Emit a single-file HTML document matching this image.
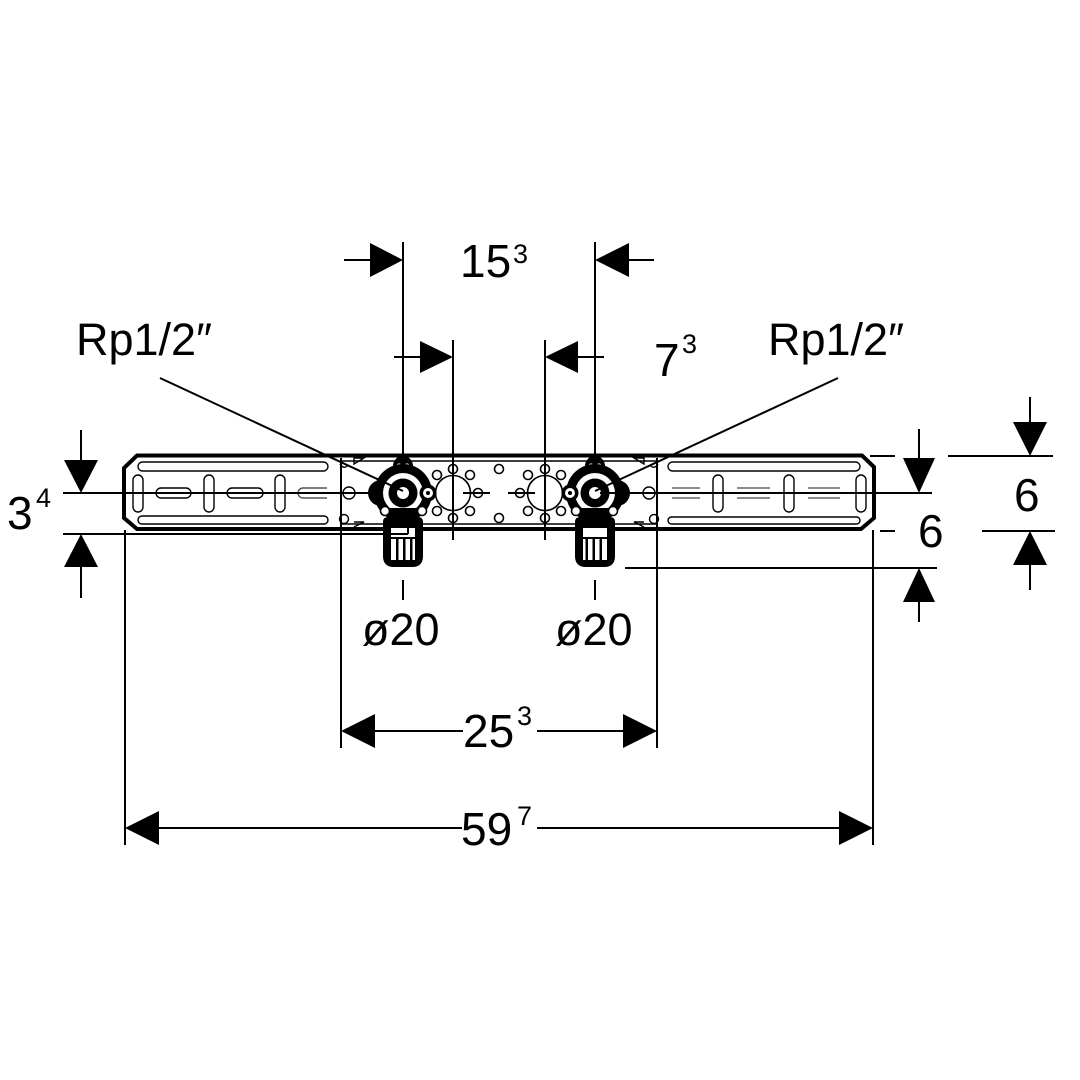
<!DOCTYPE html>
<html><head><meta charset="utf-8"><style>
html,body{margin:0;padding:0;background:#fff;}
svg{display:block;}
text{font-family:"Liberation Sans","DejaVu Sans",sans-serif;fill:#000;}
</style></head><body>
<svg width="1080" height="1080" viewBox="0 0 1080 1080" xmlns="http://www.w3.org/2000/svg">
<rect width="1080" height="1080" fill="#fff"/>
<defs>
<g id="fit">
  <!-- top boss -->
  <circle cx="403" cy="466" r="10" fill="#000"/>
  <circle cx="399" cy="466" r="2.6" fill="#fff"/>
  <circle cx="407" cy="466" r="2.6" fill="#fff"/>
  <!-- left lobe -->
  <circle cx="381" cy="493" r="13" fill="#000"/>
  <!-- main body -->
  <circle cx="403" cy="493" r="29" fill="#000"/>
  <circle cx="403" cy="493" r="20" fill="#fff"/>
  <circle cx="403" cy="493" r="14.5" fill="#000"/>
  <circle cx="403" cy="493" r="6" fill="#fff"/>
  <!-- right lobe -->
  <circle cx="428" cy="493" r="8.5" fill="#000"/>
  <circle cx="428" cy="493" r="5" fill="#fff"/>
  <circle cx="428" cy="493" r="2" fill="#000"/>
  <!-- side holes -->
  <circle cx="385" cy="511" r="4.5" fill="#fff" stroke="#000" stroke-width="1.6"/>
  <circle cx="422" cy="511" r="4.5" fill="#fff" stroke="#000" stroke-width="1.6"/>
  <!-- neck -->
  <rect x="389" y="508" width="28" height="14" fill="#000"/>
  <!-- press fitting -->
  <path d="M383 522 Q383 517 388 517 H418 Q423 517 423 522 V556 Q423 567 412 567 H394 Q383 567 383 556 Z" fill="#000"/>
  <rect x="389" y="528" width="28" height="32" fill="#fff"/>
  <rect x="389" y="537" width="28" height="2" fill="#000"/>
  <rect x="396" y="537" width="2.5" height="23" fill="#000"/>
  <rect x="403" y="537" width="2.5" height="23" fill="#000"/>
  <rect x="410" y="537" width="2.5" height="23" fill="#000"/>
  <rect x="389" y="528" width="2" height="32" fill="#000"/>
  <rect x="415" y="528" width="2" height="32" fill="#000"/>
</g>
<g id="holes" fill="#fff" stroke="#000" stroke-width="1.6">
  <circle cx="453" cy="493" r="17.5"/>
  <circle cx="437" cy="475" r="4.5"/>
  <circle cx="470" cy="475" r="4.5"/>
  <circle cx="437" cy="511" r="4.5"/>
  <circle cx="470" cy="511" r="4.5"/>
  <circle cx="453" cy="469" r="4.5"/>
  <circle cx="453" cy="518" r="4.5"/>
  <circle cx="478" cy="493" r="4.5"/>
</g>
</defs>

<!-- rail -->
<polygon points="137,455.5 862,455.5 874,467 874,518 861,529 137,529 124,518 124,468" fill="#fff" stroke="#000" stroke-width="4"/>
<g stroke="#000" stroke-width="1.4" fill="none">
  <line x1="341" y1="461" x2="657" y2="461"/>
  <line x1="341" y1="524" x2="657" y2="524"/>
  <!-- left section slots -->
  <rect x="138" y="462" width="190" height="9" rx="4.5"/>
  <rect x="138" y="516" width="190" height="8" rx="4"/>
  <rect x="133" y="475" width="10" height="37" rx="5"/>
  <rect x="204" y="475" width="10" height="37" rx="5"/>
  <rect x="275" y="475" width="10" height="37" rx="5"/>
  <rect x="156" y="488" width="35" height="10" rx="5"/>
  <rect x="227" y="488" width="36" height="10" rx="5"/>
  <path d="M327 488 H303 A5 5 0 0 0 303 498 H327" stroke="#555"/>
  <!-- right section slots -->
  <rect x="668" y="462" width="192" height="9" rx="4.5"/>
  <rect x="668" y="517" width="192" height="7" rx="3.5"/>
  <rect x="713" y="475" width="10" height="37" rx="5"/>
  <rect x="784" y="475" width="10" height="37" rx="5"/>
  <rect x="856" y="475" width="10" height="37" rx="5"/>
  <g stroke="#666">
    <line x1="672" y1="488" x2="700" y2="488"/><line x1="672" y1="498" x2="700" y2="498"/>
    <line x1="737" y1="488" x2="770" y2="488"/><line x1="737" y1="498" x2="770" y2="498"/>
    <line x1="808" y1="488" x2="840" y2="488"/><line x1="808" y1="498" x2="840" y2="498"/>
  </g>
  <!-- divider holes -->
  <circle cx="349" cy="493" r="6"/>
  <circle cx="344" cy="519" r="4.5"/>
  <path d="M340 464 Q344 470 348 465"/>
  <circle cx="649" cy="493" r="6"/>
  <circle cx="654" cy="519" r="4.5"/>
  <path d="M650 465 Q654 470 658 464"/>
  <!-- small triangles -->
  <path d="M354 458 H364 L354 464 Z"/>
  <path d="M354 522 H364 L354 527"/>
  <path d="M644 458 H634 L644 464 Z"/>
  <path d="M644 522 H634 L644 527"/>
</g>

<!-- big holes -->
<use href="#holes"/>
<use href="#holes" transform="translate(998,0) scale(-1,1)"/>
<circle cx="499" cy="469" r="4.5" fill="#fff" stroke="#000" stroke-width="1.6"/>
<circle cx="499" cy="518" r="4.5" fill="#fff" stroke="#000" stroke-width="1.6"/>

<!-- lines -->
<g stroke="#000" stroke-width="2" fill="none">
  <line x1="403" y1="242" x2="403" y2="462"/>
  <line x1="595" y1="242" x2="595" y2="462"/>
  <line x1="453" y1="340" x2="453" y2="540"/>
  <line x1="545" y1="340" x2="545" y2="540"/>
  <line x1="341" y1="458" x2="341" y2="748"/>
  <line x1="657" y1="458" x2="657" y2="748"/>
  <line x1="125" y1="530" x2="125" y2="845"/>
  <line x1="873" y1="530" x2="873" y2="845"/>
  <line x1="403" y1="580" x2="403" y2="600"/>
  <line x1="595" y1="580" x2="595" y2="600"/>
  <line x1="344" y1="260" x2="372" y2="260"/>
  <line x1="627" y1="260" x2="654" y2="260"/>
  <line x1="394" y1="357" x2="422" y2="357"/>
  <line x1="576" y1="357" x2="604" y2="357"/>
  <line x1="375" y1="731" x2="463" y2="731"/>
  <line x1="537" y1="731" x2="624" y2="731"/>
  <line x1="159" y1="828" x2="462" y2="828"/>
  <line x1="537" y1="828" x2="840" y2="828"/>
  <line x1="81" y1="430" x2="81" y2="462"/>
  <line x1="63" y1="493" x2="378" y2="493"/>
  <line x1="81" y1="566" x2="81" y2="598"/>
  <line x1="600" y1="493" x2="932" y2="493"/>
  <line x1="919" y1="429" x2="919" y2="460"/>
  <line x1="625" y1="568" x2="937" y2="568"/>
  <line x1="919" y1="600" x2="919" y2="622"/>
  <line x1="870" y1="456" x2="895" y2="456"/>
  <line x1="948" y1="456" x2="1053" y2="456"/>
  <line x1="1030" y1="397" x2="1030" y2="424"/>
  <line x1="982" y1="531" x2="1055" y2="531"/>
  <line x1="1030" y1="563" x2="1030" y2="590"/>
  <line x1="880" y1="531" x2="895" y2="531"/>
  <line x1="463" y1="493" x2="490" y2="493"/>
  <line x1="508" y1="493" x2="535" y2="493"/>
  <line x1="453" y1="489" x2="453" y2="498"/>
  <line x1="545" y1="489" x2="545" y2="498"/>
</g>

<!-- fittings -->
<use href="#fit"/>
<use href="#fit" transform="translate(998,0) scale(-1,1)"/>

<g stroke="#000" stroke-width="2" fill="none">
  <line x1="63" y1="534" x2="408" y2="534"/>
  <line x1="408" y1="534" x2="408" y2="526"/>
  <line x1="160" y1="378" x2="403" y2="491"/>
  <line x1="838" y1="378" x2="595" y2="491"/>
  <line x1="403" y1="440" x2="403" y2="458"/>
  <line x1="595" y1="440" x2="595" y2="458"/>
  <line x1="600" y1="493" x2="620" y2="493"/>
</g>

<!-- arrows -->
<g fill="#000">
  <polygon points="370,243 403,260 370,277"/>
  <polygon points="629,243 595,260 629,277"/>
  <polygon points="420,341 453,357 420,373"/>
  <polygon points="578,341 545,357 578,373"/>
  <polygon points="375,714 341,731 375,748"/>
  <polygon points="623,714 657,731 623,748"/>
  <polygon points="159,811 125,828 159,845"/>
  <polygon points="839,811 873,828 839,845"/>
  <polygon points="64,460 98,460 81,493"/>
  <polygon points="64,567 98,567 81,534"/>
  <polygon points="903,458 935,458 919,493"/>
  <polygon points="903,602 935,602 919,568"/>
  <polygon points="1013,422 1047,422 1030,456"/>
  <polygon points="1013,565 1047,565 1030,531"/>
</g>

<!-- labels -->
<text x="460" y="277" font-size="46">15</text>
<text x="513" y="263" font-size="27">3</text>
<text x="654" y="376" font-size="46">7</text>
<text x="682" y="353" font-size="27">3</text>
<text x="76" y="355" font-size="45">Rp1/2″</text>
<text x="768" y="355" font-size="45">Rp1/2″</text>
<text x="7" y="529" font-size="46">3</text>
<text x="36" y="507" font-size="27">4</text>
<text x="1014" y="511" font-size="46">6</text>
<text x="918" y="547" font-size="46">6</text>
<text x="362" y="645" font-size="45">ø20</text>
<text x="555" y="645" font-size="45">ø20</text>
<text x="463" y="747" font-size="46">25</text>
<text x="517" y="725" font-size="27">3</text>
<text x="461" y="845" font-size="46">59</text>
<text x="517" y="825" font-size="27">7</text>
</svg>
</body></html>
